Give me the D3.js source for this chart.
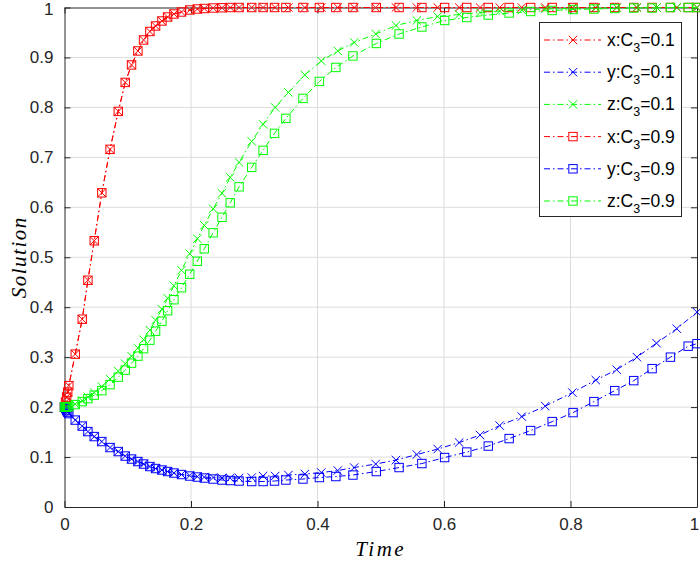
<!DOCTYPE html>
<html><head><meta charset="utf-8">
<script src="https://cdn.jsdelivr.net/npm/d3@7"></script>
<style>body{margin:0;background:#fff}svg{display:block}</style>
</head><body><div id="chart"></div>
<script>
// ---- data ----
const tEarly = [0,0.0017,0.0034,0.0051,0.0068,0.017,0.028,0.037,0.047,0.059,0.072,0.085,0.096,0.106,0.116,0.125,0.135,0.144,0.154,0.163,0.173,0.185,0.198,0.210,0.221,0.235,0.249,0.262,0.276,0.296,0.314];
const tA = tEarly.concat([0.333,0.354,0.380,0.406,0.432,0.458,0.492,0.524,0.557,0.590,0.624,0.657,0.688,0.723,0.760,0.803,0.840,0.873,0.905,0.936,0.968,1.0]);
const tB = tEarly.concat([0.332,0.350,0.377,0.403,0.429,0.456,0.493,0.529,0.565,0.601,0.636,0.670,0.703,0.737,0.771,0.804,0.837,0.870,0.900,0.929,0.958,0.986,1.0]);

const xEarly = [0.2,0.21,0.22,0.23,0.243,0.306,0.376,0.454,0.533,0.629,0.716,0.792,0.85,0.885,0.913,0.935,0.952,0.963,0.973,0.981,0.987,0.991,0.995,0.997,0.998,0.999,0.9995,1,1,1,1];
const xA = xEarly.concat([1,1,1,1,1,1,1,1,1,1,1,1,1,1,1,1,1,1,1,1,1,1]);
const xB = xEarly.concat([1,1,1,1,1,1,1,1,1,1,1,1,1,1,1,1,1,1,1,1,1,1,1]);

const yA = [0.2,0.197,0.193,0.19,0.187,0.174,0.162,0.151,0.141,0.131,0.119,0.111,0.102,0.096,0.091,0.086,0.081,0.077,0.074,0.071,0.068,0.065,0.063,0.061,0.060,0.059,0.058,0.058,0.058,0.059,0.062,
  0.062,0.064,0.066,0.069,0.073,0.079,0.086,0.094,0.105,0.116,0.129,0.144,0.163,0.181,0.202,0.229,0.254,0.275,0.300,0.328,0.357,0.390];
const yB = [0.2,0.197,0.193,0.19,0.187,0.174,0.162,0.151,0.141,0.131,0.119,0.111,0.102,0.096,0.091,0.086,0.081,0.077,0.074,0.071,0.068,0.065,0.062,0.060,0.058,0.056,0.054,0.053,0.052,0.051,0.051,
  0.052,0.054,0.056,0.059,0.061,0.064,0.071,0.079,0.087,0.099,0.110,0.122,0.137,0.153,0.171,0.189,0.211,0.233,0.253,0.277,0.300,0.322,0.327];

const zA = [0.2,0.2,0.201,0.201,0.202,0.206,0.213,0.220,0.229,0.241,0.256,0.272,0.287,0.302,0.318,0.335,0.354,0.374,0.396,0.418,0.443,0.474,0.507,0.537,0.564,0.597,0.628,0.660,0.690,0.732,0.766,
  0.800,0.830,0.865,0.893,0.913,0.930,0.947,0.964,0.974,0.982,0.986,0.990,0.993,0.995,0.997,0.998,0.999,0.9995,1,1,1,1];
const zB = [0.2,0.2,0.2,0.201,0.201,0.205,0.211,0.217,0.224,0.233,0.245,0.260,0.274,0.288,0.302,0.317,0.334,0.352,0.372,0.393,0.415,0.439,0.466,0.492,0.517,0.549,0.580,0.609,0.641,0.680,0.714,
  0.748,0.778,0.818,0.852,0.880,0.903,0.928,0.947,0.961,0.974,0.980,0.985,0.989,0.992,0.994,0.996,0.997,0.998,0.999,0.999,1,1,1];

const xTicks = [0,0.2,0.4,0.6,0.8,1];
const yTicks = [0,0.1,0.2,0.3,0.4,0.5,0.6,0.7,0.8,0.9,1];
const seriesNames = ["x","y","z","x","y","z"];
const seriesC3 = ["0.1","0.1","0.1","0.9","0.9","0.9"];
const seriesColors = ["#ff0000","#0000ff","#00ff00","#ff0000","#0000ff","#00ff00"];
const seriesMarkers = ["x","x","x","s","s","s"];

// ---- drawing ----
const W = 700, H = 561;
const L = 64.5, R = 697, T = 7.5, B = 507;
const sx = d3.scaleLinear().domain([0,1]).range([L,R]);
const sy = d3.scaleLinear().domain([0,1]).range([B,T]);
const svg = d3.select("#chart").append("svg").attr("width",W).attr("height",H);

const series = [
  {t:tA,v:xA},{t:tA,v:yA},{t:tA,v:zA},
  {t:tB,v:xB},{t:tB,v:yB},{t:tB,v:zB}
];

// grid
const grid = svg.append("g");
grid.selectAll(".gx").data(xTicks.slice(1,-1)).join("line")
  .attr("x1",d=>sx(d)).attr("x2",d=>sx(d)).attr("y1",T).attr("y2",B)
  .attr("stroke","#dcdcdc").attr("stroke-width",1);
grid.selectAll(".gy").data(yTicks.slice(1,-1)).join("line")
  .attr("y1",d=>sy(d)).attr("y2",d=>sy(d)).attr("x1",L).attr("x2",R)
  .attr("stroke","#dcdcdc").attr("stroke-width",1);

// axes
const axCol = "#262626";
const fontSans = "Arial, 'Liberation Sans', Helvetica, sans-serif";
const xAxis = d3.axisBottom(sx).tickValues(xTicks).tickSizeInner(-6).tickSizeOuter(0).tickPadding(11).tickFormat(d3.format("~g"));
const yAxis = d3.axisLeft(sy).tickValues(yTicks).tickSizeInner(-6).tickSizeOuter(0).tickPadding(11).tickFormat(d3.format("~g"));
const gx = svg.append("g").attr("transform",`translate(0,${B})`).call(xAxis);
const gy = svg.append("g").attr("transform",`translate(${L},0)`).call(yAxis);
const gxt = svg.append("g").attr("transform",`translate(0,${T})`).call(d3.axisTop(sx).tickValues(xTicks).tickSizeInner(-6).tickSizeOuter(0).tickFormat(""));
const gyr = svg.append("g").attr("transform",`translate(${R},0)`).call(d3.axisRight(sy).tickValues(yTicks).tickSizeInner(-6).tickSizeOuter(0).tickFormat(""));
[gx,gy,gxt,gyr].forEach(g=>{
  g.select(".domain").attr("stroke",axCol).attr("stroke-width",1);
  g.selectAll(".tick line").attr("stroke",axCol).attr("stroke-width",1);
  g.selectAll(".tick text").attr("fill","#262626").style("font-family",fontSans).style("font-size","17px");
});
gy.selectAll(".tick text").filter(d=>d===1).attr("dy","0.42em");
gx.selectAll(".tick text").filter(d=>d===1).attr("dx","-3");

// lines & markers
const plot = svg.append("g");
const line = d3.line().x(d=>sx(d[0])).y(d=>sy(d[1]));
function drawMarker(g, type, x, y, col){
  const s=4.2;
  if(type==="x"){
    g.append("path").attr("d",`M${x-s},${y-s}L${x+s},${y+s}M${x-s},${y+s}L${x+s},${y-s}`)
      .attr("stroke",col).attr("stroke-width",1).attr("fill","none");
  } else {
    g.append("rect").attr("x",x-s).attr("y",y-s).attr("width",2*s).attr("height",2*s)
      .attr("stroke",col).attr("stroke-width",1).attr("fill","none");
  }
}
series.forEach((s,i)=>{
  const pts = s.t.map((t,j)=>[t,s.v[j]]);
  plot.append("path").datum(pts).attr("d",line).attr("fill","none")
    .attr("stroke",seriesColors[i]).attr("stroke-width",1).attr("stroke-dasharray","6,3,1.5,3");
  const mg = plot.append("g");
  pts.forEach(p=>drawMarker(mg, seriesMarkers[i], sx(p[0]), sy(p[1]), seriesColors[i]));
});

// legend
const lgX=539.5, lgY=22.5, lgW=142, lgH=194;
const lg = svg.append("g");
lg.append("rect").attr("x",lgX).attr("y",lgY).attr("width",lgW).attr("height",lgH)
  .attr("fill","#fff").attr("stroke",axCol).attr("stroke-width",1);
seriesNames.forEach((n,i)=>{
  const yy = 40 + i*32.2;
  const col = seriesColors[i];
  lg.append("line").attr("x1",544).attr("x2",601).attr("y1",yy).attr("y2",yy)
    .attr("stroke",col).attr("stroke-width",1).attr("stroke-dasharray","6,3,1.5,3");
  drawMarker(lg, seriesMarkers[i], 573, yy, col);
  const tx = lg.append("text").attr("x",607).attr("y",yy+6)
    .style("font-family",fontSans).style("font-size","17.5px").attr("fill","#000");
  tx.append("tspan").text(n+":C");
  tx.append("tspan").text("3").attr("dy",6).style("font-size","12.5px");
  tx.append("tspan").text("="+seriesC3[i]).attr("dy",-6);
});

// axis labels
svg.append("text").attr("x",(L+R)/2).attr("y",556).attr("text-anchor","middle")
  .style("font-family","'Liberation Serif','Times New Roman',serif").style("font-style","italic")
  .style("font-size","21px").style("letter-spacing","2.5px").text("Time");
svg.append("text").attr("transform",`translate(26,${(T+B)/2}) rotate(-90)`).attr("text-anchor","middle")
  .style("font-family","'Liberation Serif','Times New Roman',serif").style("font-style","italic")
  .style("font-size","21px").style("letter-spacing","1.5px").text("Solution");
</script></body></html>
